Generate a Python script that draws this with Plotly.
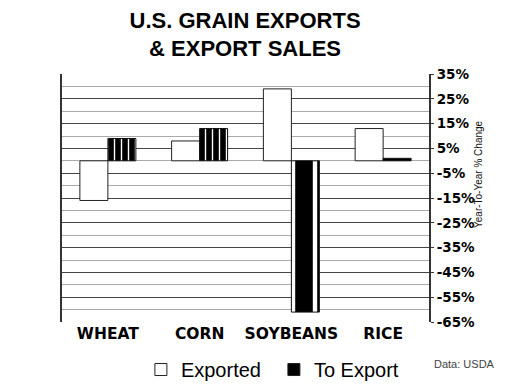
import plotly.graph_objects as go

categories = ["WHEAT", "CORN", "SOYBEANS", "RICE"]
exported = [-16, 8, 29, 13]
to_export = [9, 13, -61, 1]
tick_vals = [35, 25, 15, 5, -5, -15, -25, -35, -45, -55, -65]
tick_text = [f"{v}%" for v in tick_vals]
minor_vals = [30, 20, 10, 0, -10, -20, -30, -40, -50, -60]

FONT = "Liberation Sans, Arial, sans-serif"
WIDE = "DejaVu Sans, Verdana, sans-serif"
BW = 0.305

fig = go.Figure()
fig.add_trace(go.Bar(
    x=categories, y=exported, name="Exported", showlegend=False,
    width=BW, offset=-BW,
    marker=dict(color="white", line=dict(color="#222", width=1)),
))
fig.add_trace(go.Bar(
    x=categories, y=to_export, name="To Export", showlegend=False,
    width=BW, offset=0,
    marker=dict(color="black", line=dict(color="#111", width=1),
                pattern=dict(shape=["|", "|", "|", ""], fgcolor="white", bgcolor="black",
                             size=[7, 7, 22, 7], solidity=0.2, fillmode="replace")),
))
# legend entries (solid swatches as in the reference)
fig.add_trace(go.Bar(x=[None], y=[None], name="Exported",
                     marker=dict(color="white", line=dict(color="#222", width=1))))
fig.add_trace(go.Bar(x=[None], y=[None], name="To Export",
                     marker=dict(color="black", line=dict(color="#222", width=1))))

fig.update_layout(
    width=512, height=381,
    margin=dict(l=54, r=91, t=66, b=67, autoexpand=False),
    paper_bgcolor="white", plot_bgcolor="white",
    barmode="overlay",
    font=dict(family=FONT, color="black"),
    title=dict(text="<b>U.S. GRAIN EXPORTS<br>& EXPORT SALES</b>",
               x=0.463, xanchor="center", yref="container", y=0.948, yanchor="bottom",
               font=dict(size=22, family=FONT), automargin=False),
    showlegend=True,
    legend=dict(orientation="h", x=0.215, xanchor="left", y=-0.113, yanchor="top",
                font=dict(size=20, family=FONT), traceorder="normal",
                itemwidth=30, entrywidth=88, entrywidthmode="pixels"),
    xaxis=dict(showgrid=False, ticks="", showline=False, automargin=False,
               tickfont=dict(size=15.5, family=WIDE, weight="bold")),
    yaxis=dict(side="right", range=[-65, 35], tickvals=tick_vals, ticktext=tick_text,
               showgrid=True, gridcolor="#444", gridwidth=1, automargin=False,
               zeroline=False, showline=True, linecolor="#333", linewidth=2, mirror=True,
               ticks="outside", ticklen=3, tickcolor="#333",
               tickfont=dict(size=13.5, family=WIDE, weight="bold"),
               minor=dict(tickvals=minor_vals, showgrid=True, gridcolor="#aaa", gridwidth=1, ticks="")),
    annotations=[
        dict(text="Data: USDA", xref="paper", yref="paper", x=1.008, y=-0.169,
             xanchor="left", yanchor="middle", showarrow=False,
             font=dict(size=11, family=FONT, color="#444")),
        dict(text="Year-To-Year % Change", xref="paper", yref="paper", x=1.135, y=0.595,
             xanchor="center", yanchor="middle", showarrow=False, textangle=-90,
             font=dict(size=10, family="Liberation Sans Narrow, Liberation Sans, Arial", color="#111")),
    ],
)

fig.write_html("out.html")
